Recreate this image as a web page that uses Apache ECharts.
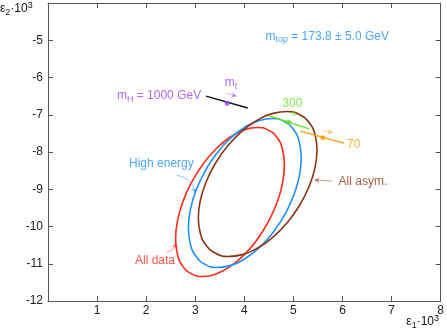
<!DOCTYPE html>
<html><head><meta charset="utf-8">
<script src="https://cdn.jsdelivr.net/npm/echarts@6/dist/echarts.min.js"></script>
<style>html,body{margin:0;padding:0;background:#fff}#c{width:447px;height:333px}</style>
</head><body><div id="c"></div>
<script>
// ---- contour points (ε1·10^3, ε2·10^3) ----
const allData = [[4.816,-8.349],[4.778,-7.933],[4.668,-7.613],[4.491,-7.412],[4.262,-7.341],[3.995,-7.407],[3.708,-7.605],[3.421,-7.921],[3.154,-8.335],[2.925,-8.816],[2.748,-9.333],[2.638,-9.851],[2.600,-10.335],[2.638,-10.751],[2.748,-11.071],[2.925,-11.272],[3.154,-11.343],[3.421,-11.277],[3.708,-11.079],[3.995,-10.763],[4.262,-10.349],[4.491,-9.868],[4.668,-9.351],[4.778,-8.833],[4.816,-8.349]];
const highEnergy = [[5.159,-8.161],[5.120,-7.736],[5.005,-7.404],[4.822,-7.187],[4.585,-7.102],[4.308,-7.152],[4.010,-7.335],[3.712,-7.638],[3.436,-8.042],[3.198,-8.517],[3.015,-9.032],[2.900,-9.552],[2.861,-10.041],[2.900,-10.466],[3.015,-10.798],[3.198,-11.015],[3.436,-11.100],[3.712,-11.050],[4.010,-10.867],[4.308,-10.564],[4.585,-10.160],[4.822,-9.685],[5.005,-9.170],[5.120,-8.650],[5.159,-8.161]];
const allAsym = [[5.481,-7.946],[5.440,-7.532],[5.319,-7.209],[5.127,-6.998],[4.877,-6.914],[4.585,-6.963],[4.272,-7.141],[3.959,-7.435],[3.667,-7.828],[3.417,-8.290],[3.225,-8.791],[3.104,-9.296],[3.063,-9.772],[3.104,-10.186],[3.225,-10.509],[3.417,-10.720],[3.667,-10.804],[3.959,-10.755],[4.272,-10.577],[4.585,-10.283],[4.877,-9.890],[5.127,-9.428],[5.319,-8.927],[5.440,-8.422],[5.481,-7.946]];
const mtLineHiggs = [[3.22,-6.50],[4.07,-6.82]];
const mtPointHiggs = [[3.65,-6.69]];
const mtLine300 = [[4.51,-7.03],[5.32,-7.38]];
const mtPoint300 = [[4.90,-7.20]];
const mtLine70 = [[5.14,-7.44],[6.03,-7.76]];
const mtPoint70 = [[5.60,-7.62]];
const xTickValues = [1,2,3,4,5,6,7,8];
const yTickValues = [-12,-11,-10,-9,-8,-7,-6,-5];

// ---- colours ----
const RED='#ff2a14', BLUE='#1e90ff', BROWN='#8a3416', GREEN='#5fe31c', ORANGE='#ff9a0a', PURPLE='#9b3cf5', BLACK='#111';

// annotation anchors (data coordinates)
const notes = [
  {t:'{m|m}{s|H}{m| = 1000 GeV}', p:[3.12,-6.50], c:PURPLE, align:'right'},
  {t:'{m|m}{s|t}', p:[3.73,-6.15], c:PURPLE, align:'center'},
  {t:'300', p:[4.98,-6.71], c:GREEN, align:'center'},
  {t:'70', p:[6.23,-7.81], c:ORANGE, align:'center'},
  {t:'All asym.', p:[5.92,-8.80], c:BROWN, align:'left'},
  {t:'High energy', p:[2.31,-8.32], c:BLUE, align:'center'},
  {t:'All data', p:[2.18,-10.93], c:RED, align:'center'},
  {t:'{m|m}{s|top}{m| = 173.8 ± 5.0 GeV}', p:[4.43,-4.91], c:BLUE, align:'left'}
];
const arrows = [
  {c:[[5.78,-8.78],[5.43,-8.75]], col:BROWN, cv:0, w:1},
  {c:[[2.62,-8.62],[3.00,-9.10]], col:BLUE, cv:0.35, w:1},
  {c:[[2.42,-10.69],[2.60,-10.44]], col:RED, cv:-0.35, w:1},
  {c:[[3.62,-6.42],[3.84,-6.50]], col:PURPLE, cv:0, w:0.8},
  {c:[[4.88,-6.94],[5.07,-7.00]], col:GREEN, cv:0, w:0.8},
  {c:[[5.60,-7.43],[5.80,-7.48]], col:ORANGE, cv:0, w:0.8}
];

const FONT = '"Liberation Sans", Arial, sans-serif';
const chart = echarts.init(document.getElementById('c'), null, {renderer:'canvas'});

function curve(data, color){
  return {type:'line', data, smooth:0.5, showSymbol:false, symbol:'none', lineStyle:{color, width:1.6}, animation:false, z:3};
}
function seg(data, color){
  return {type:'line', data, showSymbol:false, symbol:'none', lineStyle:{color, width:1.4}, animation:false, z:4};
}
function dot(data, color){
  return {type:'scatter', data, symbolSize:5, itemStyle:{color}, animation:false, z:5};
}
const baseAxis = {
  axisLine:{show:true, onZero:false, lineStyle:{color:'#555', width:1}},
  axisTick:{show:true, inside:true, length:5, lineStyle:{color:'#555'}},
  splitLine:{show:false}
};
const noteSeries = {
  type:'scatter', symbolSize:0, animation:false, silent:true, z:6,
  data: notes.map(n => ({
    value:n.p,
    label:{show:true, position:'inside', formatter:n.t, color:n.c, align:n.align, verticalAlign:'middle',
      fontSize:12, fontFamily:FONT,
      rich:{m:{color:n.c,fontSize:12,fontFamily:FONT}, s:{color:n.c,fontSize:9,fontFamily:FONT,padding:[6,0,0,0]}}}
  }))
};
const arrowSeries = {
  type:'lines', coordinateSystem:'cartesian2d', animation:false, z:6,
  symbol:['none','arrow'], symbolSize:5,
  data: arrows.map(a => ({coords:a.c, lineStyle:{color:a.col, width:a.w, curveness:a.cv}}))
};

chart.setOption({
  animation:false,
  grid:{left:48, right:2, top:3, bottom:32},
  xAxis:[
    Object.assign({type:'value', min:0, max:8, interval:1, position:'bottom',
      axisLabel:{color:'#222', fontSize:12, fontFamily:FONT, margin:4,
        formatter:v => xTickValues.includes(v) ? String(v) : ''}}, baseAxis),
    Object.assign({type:'value', min:0, max:8, interval:1, position:'top', axisLabel:{show:false}}, baseAxis)
  ],
  yAxis:[
    Object.assign({type:'value', min:-12, max:-4, interval:1, position:'left',
      axisLabel:{color:'#222', fontSize:12, fontFamily:FONT, margin:5,
        formatter:v => yTickValues.includes(v) ? String(v) : ''}}, baseAxis),
    Object.assign({type:'value', min:-12, max:-4, interval:1, position:'right', axisLabel:{show:false}}, baseAxis)
  ],
  graphic:[
    {type:'text', left:0, top:1, style:{text:'{a|ε}{b|2}{a|·10}{c|3}', fontFamily:FONT,
      rich:{a:{fontSize:12,fill:'#111',fontFamily:FONT,height:16}, b:{fontSize:9,fill:'#111',fontFamily:FONT,padding:[7,0,0,0]}, c:{fontSize:9,fill:'#111',fontFamily:FONT,padding:[0,0,7,0]}}}},
    {type:'text', right:8, top:314, style:{text:'{a|ε}{b|1}{a|·10}{c|3}', fontFamily:FONT,
      rich:{a:{fontSize:12,fill:'#111',fontFamily:FONT,height:16}, b:{fontSize:9,fill:'#111',fontFamily:FONT,padding:[7,0,0,0]}, c:{fontSize:9,fill:'#111',fontFamily:FONT,padding:[0,0,7,0]}}}}
  ],
  series:[
    curve(allData, RED), curve(highEnergy, BLUE), curve(allAsym, BROWN),
    seg(mtLineHiggs, BLACK), dot(mtPointHiggs, PURPLE),
    seg(mtLine300, GREEN), dot(mtPoint300, GREEN),
    seg(mtLine70, ORANGE), dot(mtPoint70, ORANGE),
    arrowSeries, noteSeries
  ]
});
</script></body></html>
